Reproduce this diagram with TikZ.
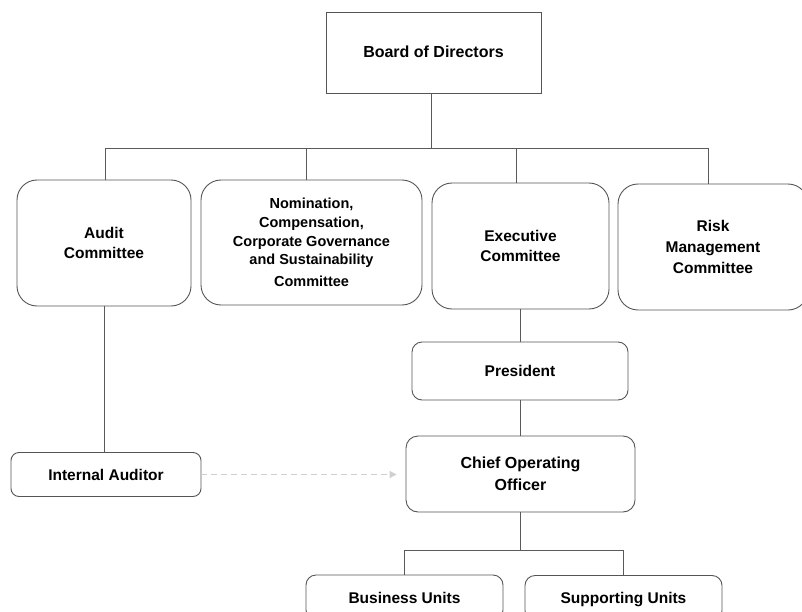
\documentclass[tikz,border=0pt]{standalone}
\usepackage{fontspec}
\setmainfont{Liberation Sans}
\usetikzlibrary{arrows.meta}
\definecolor{ln}{HTML}{5A5A5A}
\definecolor{bx}{HTML}{555555}
\definecolor{dsh}{HTML}{CFCFCF}
\begin{document}
\begin{tikzpicture}[x=1pt,y=-1pt,
  box/.style={draw=bx, line width=0.9pt, inner sep=0pt, align=center,
    font=\fontsize{15.5}{20.5}\selectfont\bfseries},
  bigbox/.style={box, rounded corners=20pt, minimum height=126pt},
  midbox/.style={box, rounded corners=10pt},
  oneline/.style={text height=11pt, text depth=0pt},
  conn/.style={draw=ln, line width=0.9pt}]
\path[use as bounding box, clip] (0,0) rectangle (802,612);
\fill[white] (0,0) rectangle (802,612);

\node[box, oneline, minimum width=215pt, minimum height=81pt,
  font=\fontsize{16}{20}\selectfont\bfseries] (board) at (433.5,52.5) {Board of Directors};

\node[bigbox, minimum width=174pt] (aud) at (104,243) {Audit\\Committee};
\node[bigbox, minimum width=221pt, minimum height=125pt,
  font=\fontsize{14.5}{18.8}\selectfont\bfseries] (nom) at (311.5,242.5)
  {Nomination,\\Compensation,\\Corporate Governance\\and Sustainability\\[3pt]Committee};
\node[bigbox, minimum width=177pt] (exe) at (520.5,246) {Executive\\Committee};
\node[bigbox, minimum width=190pt, font=\fontsize{15.5}{21}\selectfont\bfseries] (risk) at (713,247) {Risk\\Management\\Committee};

\node[midbox, oneline, minimum width=216pt, minimum height=58pt] (pres) at (520,371) {President};
\node[midbox, rounded corners=12pt, minimum width=229pt, minimum height=76pt,
  font=\fontsize{16}{22}\selectfont\bfseries] (coo) at (520.5,474) {Chief Operating\\Officer};
\node[midbox, oneline, rounded corners=8pt, minimum width=190pt, minimum height=44pt] (ia) at (106,474.5) {Internal Auditor};
\node[midbox, oneline, minimum width=197pt, minimum height=45pt] (bu) at (404.5,597.5) {Business Units};
\node[midbox, oneline, minimum width=197pt, minimum height=45pt] (su) at (623.5,598) {Supporting Units};

% top bus
\coordinate (b0) at (431,148);
\coordinate (b1) at (105,148);
\coordinate (b2) at (306,148);
\coordinate (b3) at (516,148);
\coordinate (b4) at (708,148);
\draw[conn] (board.south -| b0) -- (b0);
\draw[conn] (b1) -- (b4);
\draw[conn] (b1) -- (b1 |- aud.north);
\draw[conn] (b2) -- (b2 |- nom.north);
\draw[conn] (b3) -- (b3 |- exe.north);
\draw[conn] (b4) -- (b4 |- risk.north);

\draw[conn] (aud.south) -- (aud.south |- ia.north);
\draw[conn] (exe.south) -- (exe.south |- pres.north);
\draw[conn] (pres.south) -- (pres.south |- coo.north);

% bottom bus
\coordinate (c0) at (520,550);
\coordinate (c1) at (404,550);
\coordinate (c2) at (623,550);
\draw[conn] (coo.south -| c0) -- (c0);
\draw[conn] (c1) -- (c2);
\draw[conn] (c1) -- (c1 |- bu.north);
\draw[conn] (c2) -- (c2 |- su.north);

% dashed arrow
\draw[draw=dsh, line width=1pt, dash pattern=on 6pt off 4pt, shorten >=9pt,
  -{Triangle[length=7pt,width=7pt,fill=dsh]}] (ia.east) -- (ia.east -| coo.west);
\end{tikzpicture}
\end{document}
